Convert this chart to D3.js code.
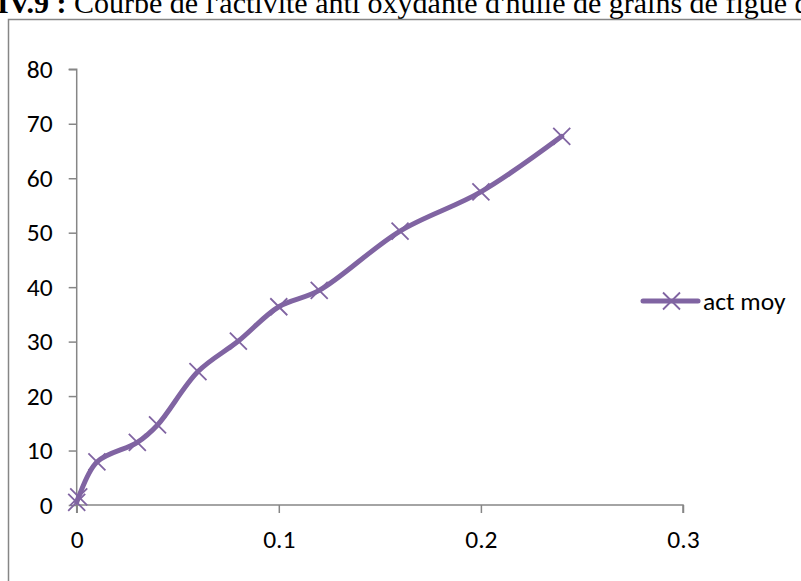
<!DOCTYPE html>
<html>
<head>
<meta charset="utf-8">
<script src="https://cdn.jsdelivr.net/npm/d3@7"></script>
<style>
  html, body { margin: 0; padding: 0; background: #fff; overflow: hidden; }
  svg { display: block; }
</style>
</head>
<body>
<svg id="chart" width="801" height="581"></svg>
<script>
// Concentration (x) and mean antioxidant activity (y)
const concentrations = [0, 0.001, 0.01, 0.03, 0.04, 0.06, 0.08, 0.1, 0.12, 0.16, 0.2, 0.24];
const activityMean   = [0.5, 1.5, 7.9, 11.5, 14.7, 24.5, 30.1, 36.4, 39.4, 50.3, 57.5, 67.7];
const xTicks = [0, 0.1, 0.2, 0.3];
const yTicks = [0, 10, 20, 30, 40, 50, 60, 70, 80];
const seriesName = "act moy";
const titleBold = "IV.9 :";
const titleText = "Courbe de l'activité anti oxydante d'huile de grains de figue de Barbarie";

const data = concentrations.map((c, i) => ({ x: c, y: activityMean[i] }));

const svg = d3.select("#chart");
const purple = "#8064A2";
const axisGrey = "#868686";
const labelFont = "Carlito, Calibri, sans-serif";
const labelSize = 25.5;

// Title line above the chart frame
const title = svg.append("text")
  .attr("x", -3).attr("y", 13)
  .attr("font-family", "'Liberation Serif', 'Times New Roman', serif")
  .attr("font-size", 30)
  .attr("fill", "#000");
title.append("tspan").attr("font-weight", "bold").text(titleBold);
title.append("tspan").text(" " + titleText);

// Chart frame
svg.append("rect")
  .attr("x", 8.5).attr("y", 19.5)
  .attr("width", 900).attr("height", 700)
  .attr("fill", "none")
  .attr("stroke", axisGrey)
  .attr("stroke-width", 1.5);

const x = d3.scaleLinear().domain([0, 0.3]).range([76.7, 683]);
const y = d3.scaleLinear().domain([0, 80]).range([505, 69.3]);

// Y axis
const yAxis = svg.append("g")
  .attr("transform", `translate(${x(0)},0)`)
  .call(d3.axisLeft(y).tickValues(yTicks).tickSize(8).tickPadding(16).tickFormat(d3.format("d")));

// X axis
const xAxis = svg.append("g")
  .attr("transform", `translate(0,${y(0)})`)
  .call(d3.axisBottom(x).tickValues(xTicks).tickSize(8).tickPadding(17).tickFormat(d => d === 0 ? "0" : d3.format(".1f")(d)));

[yAxis, xAxis].forEach(g => {
  g.select(".domain").attr("stroke", axisGrey).attr("stroke-width", 1.5);
  g.selectAll(".tick line").attr("stroke", axisGrey).attr("stroke-width", 1.5);
  g.selectAll(".tick text")
    .attr("fill", "#000")
    .attr("font-family", labelFont)
    .attr("font-size", labelSize);
});
// Y axis line ends at the top tick, x axis line at the last tick
yAxis.select(".domain").attr("d", `M-8,${y(80)}H0V${y(0)}`);
xAxis.select(".domain").attr("d", `M${x(0)},8V0H${x(0.3)}V8`);

// Smoothed series line
const line = d3.line()
  .x(d => x(d.x))
  .y(d => y(d.y))
  .curve(d3.curveCatmullRom.alpha(0.5));

svg.append("path")
  .datum(data)
  .attr("d", line)
  .attr("fill", "none")
  .attr("stroke", purple)
  .attr("stroke-width", 5)
  .attr("stroke-linecap", "round")
  .attr("stroke-linejoin", "round");

// X-shaped markers
const m = 8.5;
const crossPath = `M${-m},${-m}L${m},${m}M${-m},${m}L${m},${-m}`;
svg.append("g").selectAll("path")
  .data(data)
  .join("path")
  .attr("transform", d => `translate(${x(d.x)},${y(d.y)})`)
  .attr("d", crossPath)
  .attr("stroke", purple)
  .attr("stroke-width", 1.8)
  .attr("fill", "none");

// Legend
const lg = svg.append("g").attr("transform", "translate(643,301)");
lg.append("line")
  .attr("x1", 0).attr("x2", 55).attr("y1", 0).attr("y2", 0)
  .attr("stroke", purple).attr("stroke-width", 5).attr("stroke-linecap", "round");
lg.append("path")
  .attr("transform", "translate(28.5,0)")
  .attr("d", crossPath)
  .attr("stroke", purple).attr("stroke-width", 1.8);
lg.append("text")
  .attr("x", 60).attr("y", 0)
  .attr("dy", "0.35em")
  .attr("font-family", labelFont)
  .attr("font-size", labelSize)
  .attr("fill", "#000")
  .text(seriesName);
</script>
</body>
</html>
